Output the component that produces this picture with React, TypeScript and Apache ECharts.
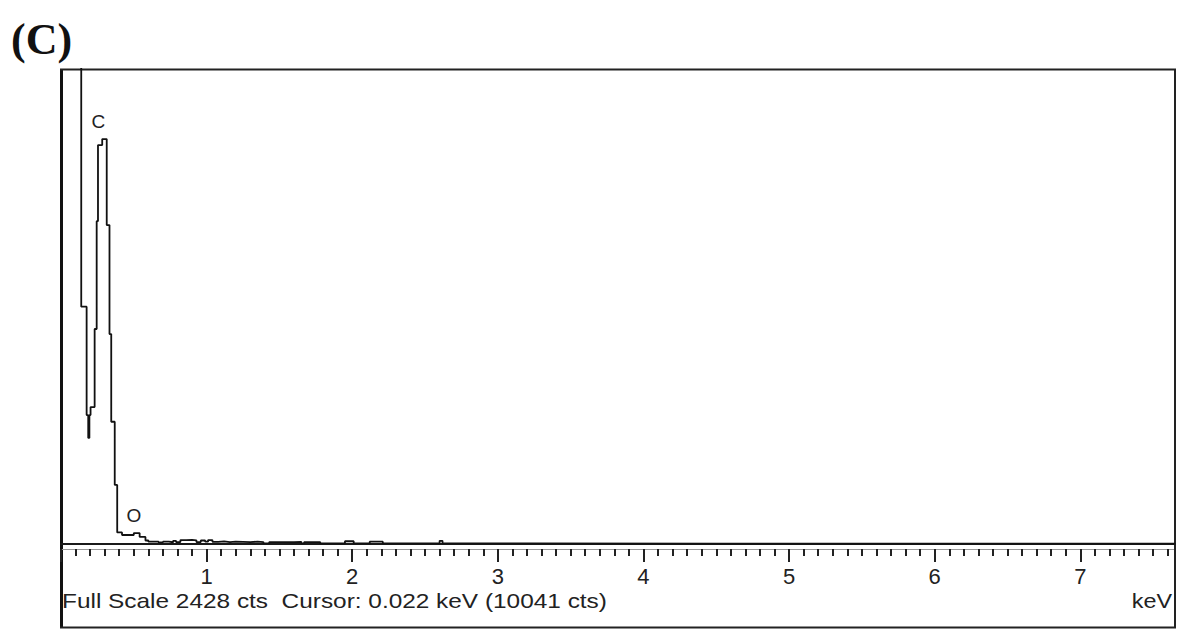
import React, { useEffect, useRef } from "react";
import * as echarts from "echarts";

// Spectrum (step histogram): bin left edge in keV and counts
const energyKeV = [
  0, 0.139, 0.176, 0.187, 0.195, 0.203, 0.231, 0.245, 0.254, 0.283, 0.314, 0.333, 0.345,
  0.369, 0.386, 0.419, 0.5, 0.54, 0.58, 0.6, 0.63, 0.67, 0.7, 0.74, 0.77, 0.79, 0.82,
  0.86, 0.9, 0.93, 0.96, 0.99, 1.01, 1.04, 1.08, 1.12, 1.16, 1.2, 1.25, 1.3, 1.35, 1.39,
  1.43, 1.52, 1.6, 1.65, 1.67, 1.78, 1.95, 2.01, 2.12, 2.21, 2.6, 2.62, 3.2, 4.5, 6.0, 7.65,
];
const counts = [
  10041, 1213, 659, 542, 659, 700, 1099, 1650, 2039, 2070, 1630, 1073, 625,
  302, 59, 46, 56, 36, 18, 12, 12, 8, 12, 9, 16, 10, 20,
  21, 19, 10, 18, 12, 20, 11, 13, 10, 12, 11, 10, 12, 10, 3,
  10, 9, 11, 3, 10, 3, 14, 3, 12, 3, 16, 3, 2, 2, 2, 2,
];

const fullScale = 2428;
const xMin = 0;
const xMax = 7.65;
const majorInterval = 1;
const minorInterval = 0.1;

const peakNames = ["C", "O"];
const peakLabelKeV = [0.257, 0.501];
const peakLabelCounts = [2160, 146];

const panelLabel = "(C)";
const footerText = "Full Scale 2428 cts  Cursor: 0.022 keV (10041 cts)";
const unitText = "keV";

export default function App() {
  const ref = useRef<HTMLDivElement>(null);

  useEffect(() => {
    if (!ref.current) return;
    const chart = echarts.init(ref.current, undefined, { renderer: "svg" });
    const data = energyKeV.map((e, i) => [e, counts[i]]);
    const sans = "'Liberation Sans', Arial, sans-serif";

    chart.setOption({
      animation: false,
      backgroundColor: "#ffffff",
      grid: { left: 61, top: 69, right: 9, bottom: 85, containLabel: false },
      xAxis: [
        {
          type: "value",
          min: xMin,
          max: xMax,
          position: "bottom",
          axisLine: { show: true, onZero: false, lineStyle: { color: "#1a1a1a", width: 2.2 } },
          axisTick: { show: false },
          axisLabel: { show: false },
          splitLine: { show: false },
        },
        {
          type: "value",
          min: xMin,
          max: xMax,
          interval: minorInterval,
          position: "bottom",
          offset: 5,
          axisLine: { show: true, onZero: false, lineStyle: { color: "#999", width: 1 } },
          axisTick: { show: true, length: 7, lineStyle: { color: "#222", width: 2 } },
          axisLabel: { show: false },
          splitLine: { show: false },
        },
        {
          type: "value",
          min: xMin,
          max: xMax,
          interval: majorInterval,
          position: "bottom",
          offset: 5,
          axisLine: { show: false, onZero: false },
          axisTick: { show: true, length: 13, lineStyle: { color: "#222", width: 2 } },
          axisLabel: {
            show: true,
            margin: 16,
            fontSize: 22,
            color: "#222",
            fontFamily: sans,
            showMinLabel: true,
            showMaxLabel: true,
            formatter: (v: number) =>
              v >= 1 && Math.abs(v - Math.round(v)) < 1e-6 ? String(Math.round(v)) : "",
          },
          splitLine: { show: false },
        },
      ],
      yAxis: { type: "value", min: 0, max: fullScale, show: false, splitLine: { show: false } },
      series: [
        {
          type: "line",
          xAxisIndex: 0,
          data,
          step: "end",
          showSymbol: false,
          symbol: "none",
          clip: true,
          lineStyle: { color: "#111", width: 1.8 },
          markPoint: {
            symbol: "circle",
            symbolSize: 0,
            silent: true,
            label: {
              show: true,
              position: "inside",
              color: "#222",
              fontSize: 19,
              fontFamily: sans,
              formatter: (p: any) => p.name,
            },
            data: peakNames.map((n, i) => ({
              name: n,
              coord: [peakLabelKeV[i], peakLabelCounts[i]],
            })),
          },
        },
      ],
      graphic: [
        {
          type: "text",
          left: 11,
          top: 17,
          style: {
            text: panelLabel,
            font: "bold 44px 'Liberation Serif', 'DejaVu Serif', serif",
            fill: "#111",
          },
        },
        // frame
        { type: "line", shape: { x1: 61.5, y1: 69, x2: 61.5, y2: 628 }, style: { stroke: "#111", lineWidth: 3 } },
        { type: "line", shape: { x1: 60, y1: 69.5, x2: 1176, y2: 69.5 }, style: { stroke: "#222", lineWidth: 1.8 } },
        { type: "line", shape: { x1: 1175, y1: 69, x2: 1175, y2: 628 }, style: { stroke: "#222", lineWidth: 2 } },
        { type: "line", shape: { x1: 60, y1: 627.5, x2: 1176, y2: 627.5 }, style: { stroke: "#222", lineWidth: 2 } },
        {
          type: "text",
          x: 62,
          y: 601,
          scaleX: 1.22,
          style: {
            text: footerText,
            font: "20px 'Liberation Sans', Arial, sans-serif",
            fill: "#222",
            textVerticalAlign: "middle",
            verticalAlign: "middle",
          },
        },
        {
          type: "text",
          x: 1172,
          y: 601,
          scaleX: 1.17,
          style: {
            text: unitText,
            font: "20px 'Liberation Sans', Arial, sans-serif",
            fill: "#222",
            align: "right",
            textAlign: "right",
            textVerticalAlign: "middle",
            verticalAlign: "middle",
          },
        },
      ],
    });

    return () => chart.dispose();
  }, []);

  return (
    <div
      ref={ref}
      style={{ position: "absolute", left: 0, top: 0, width: 1184, height: 629 }}
    />
  );
}
